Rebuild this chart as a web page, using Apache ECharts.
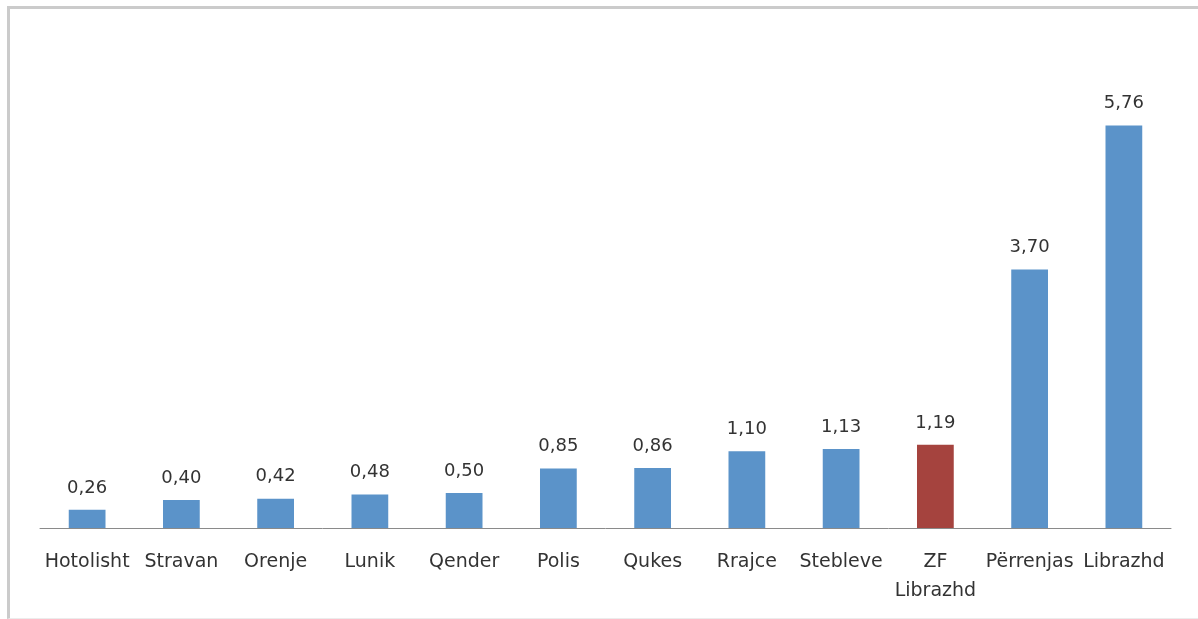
<!DOCTYPE html>
<html><head><meta charset="utf-8">
<script src="https://cdn.jsdelivr.net/npm/echarts@6/dist/echarts.min.js"></script>
<style>
html,body{margin:0;padding:0;background:#fff;}
#frame{position:absolute;left:7px;top:6px;width:1300px;height:609px;border-left:3px solid #cbcbcb;border-top:3px solid #cbcbcb;border-bottom:1px solid #ececec;}
#c{position:absolute;left:0;top:0;width:1198px;height:619px;}
</style></head>
<body>
<div id="frame"></div>
<div id="c"></div>
<script>
const categories = ['Hotolisht','Stravan','Orenje','Lunik','Qender','Polis','Qukes','Rrajce','Stebleve','ZF\nLibrazhd','Përrenjas','Librazhd'];
const values = [0.26,0.40,0.42,0.48,0.50,0.85,0.86,1.10,1.13,1.19,3.70,5.76];
const highlighted = ['ZF\nLibrazhd'];
const blue = '#5b93c9', red = '#a5433e';
const chart = echarts.init(document.getElementById('c'), null, {renderer:'canvas'});
chart.setOption({
  animation:false,
  grid:{left:40,right:27,top:39,bottom:91,containLabel:false},
  xAxis:{type:'category',data:categories,
    axisLine:{lineStyle:{color:'#8a8a8a',width:1}},
    axisTick:{show:false},
    axisLabel:{interval:0,color:'#333',fontFamily:'DejaVu Sans',fontSize:19,margin:20,lineHeight:29}},
  yAxis:{type:'value',min:0,max:7,show:false,splitLine:{show:false}},
  series:[{type:'bar',barWidth:'39%',
    data:values.map((v,i)=>({value:v,itemStyle:{color:highlighted.includes(categories[i])?red:blue}})),
    label:{show:true,position:'top',distance:13,color:'#333',fontFamily:'DejaVu Sans',fontSize:18,
      formatter:p=>p.value.toFixed(2).replace('.',',')}}]
});
</script>
</body></html>
